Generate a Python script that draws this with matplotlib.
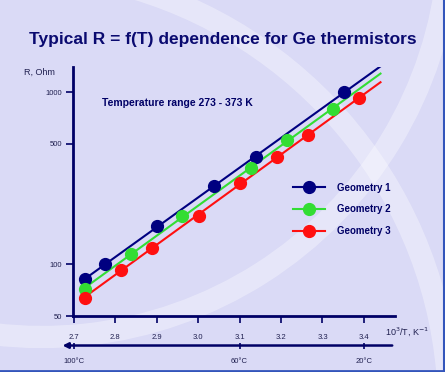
import numpy as np
import matplotlib.pyplot as plt
from matplotlib.lines import Line2D
from matplotlib.patches import Arc

plt.rcParams['font.family'] = ['Liberation Sans', 'DejaVu Sans']

# data (x = 1000/T, y = R in Ohm)
g1_x = [2.727, 2.776, 2.900, 3.038, 3.139, 3.352]
g1_r = [82, 100, 166, 284, 420, 1000]
g2_x = [2.727, 2.838, 2.962, 3.127, 3.214, 3.326]
g2_r = [72, 115, 190, 364, 524, 798]
g3_x = [2.727, 2.813, 2.888, 3.001, 3.101, 3.190, 3.264, 3.389]
g3_r = [64, 93, 124, 190, 296, 420, 561, 926]
labels = ["Geometry 1", "Geometry 2", "Geometry 3"]
colors = ["#000080", "#33dd33", "#ff1010"]

x_ticks = [2.7, 2.8, 2.9, 3.0, 3.1, 3.2, 3.3, 3.4]
y_ticks = [50, 100, 500, 1000]
t_ticks = [2.7, 3.1, 3.4]
t_labels = ["100°C", "60°C", "20°C"]
fit_end = 3.44

navy = "#000066"
bg = "#dadaf6"

fig = plt.figure(figsize=(4.45, 3.72), dpi=100)
fig.patch.set_facecolor(bg)

# decorative white bands (centres in pixels from top-left)
def px(x, y):
    return (x / 100, (372 - y) / 100)
for cen, r, t1, t2, lw in [((9, 410), 440, 5, 78, 16), ((42, -71), 408, 250, 355, 16)]:
    arc = Arc(px(*cen), 2 * r / 100, 2 * r / 100, theta1=t1, theta2=t2,
              transform=fig.dpi_scale_trans, color="white", alpha=0.35, lw=lw, zorder=0)
    fig.add_artist(arc)
fig.add_artist(plt.Line2D([0, 1], [0.004, 0.004], transform=fig.transFigure, color="#3355bb", lw=2))
fig.add_artist(plt.Line2D([0.997, 0.997], [0, 1], transform=fig.transFigure, color="#3355bb", lw=1.5))

ax = fig.add_axes([73 / 445, 0.1505, 322 / 445, 0.6694])
ax.set_facecolor("none")
ax.set_yscale("log")
ax.set_xlim(2.698, 3.475)
ax.set_ylim(50, 1400)

for xs, rs, c in zip([g1_x, g2_x, g3_x], [g1_r, g2_r, g3_r], colors):
    xs = np.array(xs)
    k, b = np.polyfit(xs, np.log10(rs), 1)
    xf = np.array([xs[0], fit_end])
    ax.plot(xf, 10 ** (k * xf + b), color=c, lw=1.5, zorder=2)
    ax.plot(xs, rs, "o", color=c, ms=8.5, zorder=3)

for s in ["top", "right"]:
    ax.spines[s].set_visible(False)
for s in ["left", "bottom"]:
    ax.spines[s].set_color(navy)
    ax.spines[s].set_linewidth(2)

ax.set_xticks(x_ticks)
ax.set_xticklabels(["%.1f" % v for v in x_ticks])
ax.set_yticks(y_ticks)
ax.set_yticklabels([str(v) for v in y_ticks])
ax.yaxis.set_minor_locator(plt.NullLocator())
ax.tick_params(axis="both", colors=navy, labelcolor="#202050", labelsize=5.5,
               length=5, width=1.2, direction="out")
ax.tick_params(axis="y", pad=3)
ax.tick_params(axis="x", pad=8)

ax.text(-0.055, 0.98, "R, Ohm", transform=ax.transAxes, ha="right", va="center",
        fontsize=6.5, color="#202050")
ax.text(0.969, -0.064, "10$^3$/T, K$^{-1}$", transform=ax.transAxes, ha="left", va="center",
        fontsize=6.5, color="#202050")
ax.text(0.09, 0.855, "Temperature range 273 - 373 K", transform=ax.transAxes,
        fontsize=7.5, fontweight="bold", color=navy, va="center")

handles = [Line2D([], [], color=c, lw=1.5, marker="o", ms=8.5) for c in colors]
leg = ax.legend(handles, labels, loc="upper left", bbox_to_anchor=(0.655, 0.57),
                frameon=False, handlelength=3.3, labelspacing=1.2, handletextpad=1.3,
                prop={"size": 7, "weight": "bold"})
for t in leg.get_texts():
    t.set_color(navy)

# temperature scale underneath
ax2 = fig.add_axes([73 / 445, 1 - 345.7 / 372, 322 / 445, 0.001])
ax2.set_facecolor("none")
ax2.set_xlim(ax.get_xlim())
for s in ax2.spines.values():
    s.set_visible(False)
ax2.set_yticks([])
ax2.set_xticks(t_ticks)
ax2.set_xticklabels(t_labels)
ax2.tick_params(axis="x", colors=navy, labelcolor="#202050", labelsize=5.5,
                length=4, width=1.2, direction="inout", pad=7)
ax2.annotate("", xy=(2.666, 0.5), xytext=(3.475, 0.5), xycoords=("data", "axes fraction"),
             arrowprops=dict(arrowstyle="-|>", color=navy, lw=1.8, mutation_scale=8),
             annotation_clip=False)

fig.text(0.5, 0.893, "Typical R = f(T) dependence for Ge thermistors", ha="center",
         va="center", fontsize=12.5, fontweight="bold", color="#0a0a70")

fig.savefig("out.png", dpi=100, facecolor=fig.get_facecolor())
